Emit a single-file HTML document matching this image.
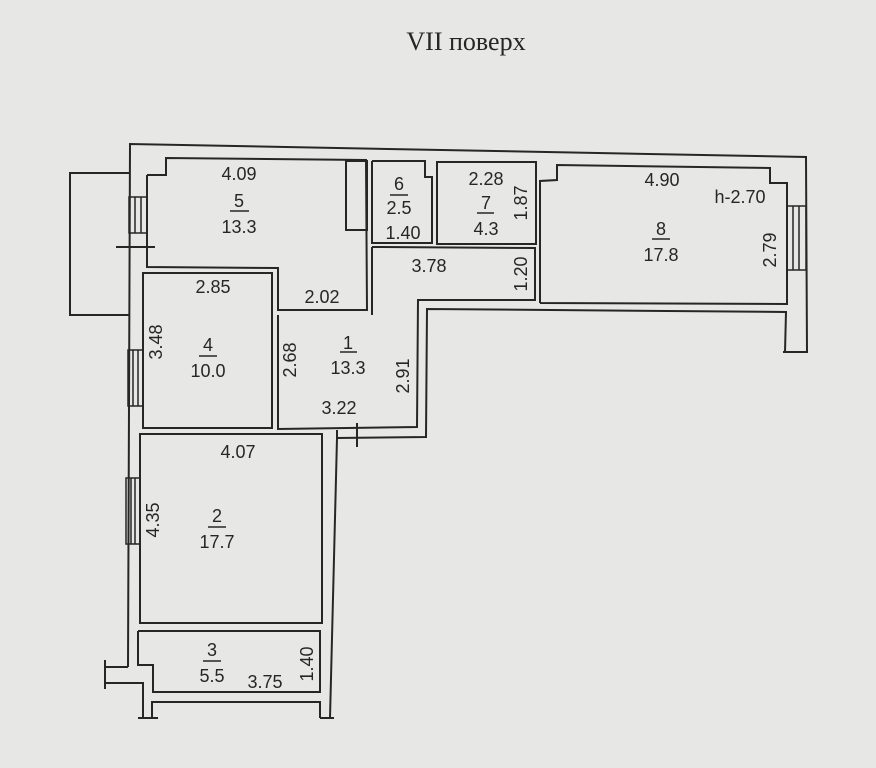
<!DOCTYPE html>
<html><head><meta charset="utf-8"><style>
body{margin:0;background:#e7e7e5;}
svg{display:block}
text{font-family:"Liberation Sans",sans-serif;font-size:18px;fill:#262626}
.t{font-family:"Liberation Serif",serif;font-size:26px}
</style></head><body>
<svg width="876" height="768" viewBox="0 0 876 768">
<rect width="876" height="768" fill="#e7e7e5"/>
<text class="t" x="466" y="50" text-anchor="middle">VII поверх</text>
<g fill="none" stroke="#262626" stroke-width="2">
<polyline points="128,667 130,144 806,157 807,352"/>
<polyline points="783,352 808,352"/>
<polyline points="785,352 786,312 427,309 426,437 337,438 330,718"/>
<polyline points="320,718 334,718"/>
<polyline points="129,173 70,173 70,315 129,315"/>
<line x1="116" y1="247" x2="155" y2="247"/>
<polyline points="128,667 105,667"/><line x1="105" y1="660" x2="105" y2="689"/>
<polyline points="105,683 143,683 143,718"/><line x1="138" y1="718" x2="158" y2="718"/>
<polyline points="152,718 152,702 320,702 320,718"/>
<polyline points="147,175 166,175 166,158 366,160 367,310 278,310 278,268 147,267 147,175"/>
<rect x="346" y="161" width="21" height="69"/>
<polyline points="372,161 425,161 425,177 432,177 432,243 372,243 372,161"/>
<rect x="437" y="162" width="99" height="82"/>
<polyline points="540,303 540,181 557,180 557,165 770,168 770,183 787,183 787,304 540,303"/>
<polyline points="372,247 535,248 535,300 418,300 417,427 278,429 278,315"/>
<line x1="372" y1="247" x2="372" y2="315"/>
<rect x="143" y="273" width="129" height="155"/>
<rect x="140" y="434" width="182" height="189"/>
<polyline points="138,631 320,631 320,692 153,692 153,665 138,665 138,631"/>
<line x1="147" y1="175" x2="147" y2="267"/>
<line x1="337" y1="438" x2="337" y2="430"/>
<line x1="357" y1="423" x2="357" y2="447"/>
</g>
<g stroke="#262626" stroke-width="1.5">
<rect x="129" y="197" width="18" height="36" fill="none"/><line x1="135" y1="197" x2="135" y2="233"/><line x1="141" y1="197" x2="141" y2="233"/>
<rect x="128" y="350" width="15" height="56" fill="none"/><line x1="133" y1="350" x2="133" y2="406"/><line x1="138" y1="350" x2="138" y2="406"/>
<rect x="126" y="478" width="14" height="66" fill="none"/><line x1="131" y1="478" x2="131" y2="544"/><line x1="135" y1="478" x2="135" y2="544"/>
<rect x="787" y="206" width="19" height="64" fill="none"/><line x1="793" y1="206" x2="793" y2="270"/><line x1="799" y1="206" x2="799" y2="270"/>
</g>
<g stroke="#262626" stroke-width="1.5">
<line x1="230" y1="211" x2="249" y2="211"/>
<line x1="199" y1="356" x2="217" y2="356"/>
<line x1="340" y1="352" x2="357" y2="352"/><line x1="390" y1="195" x2="408" y2="195"/>
<line x1="477" y1="213" x2="494" y2="213"/><line x1="652" y1="239" x2="670" y2="239"/>
<line x1="208" y1="527" x2="226" y2="527"/><line x1="203" y1="661" x2="221" y2="661"/>
</g>
<g text-anchor="middle">
<text x="239" y="180">4.09</text><text x="239" y="207">5</text><text x="239" y="233">13.3</text>
<text x="399" y="190">6</text><text x="399" y="214">2.5</text><text x="403" y="239">1.40</text>
<text x="486" y="185">2.28</text><text x="486" y="209">7</text><text x="486" y="235">4.3</text>
<text x="662" y="186">4.90</text><text x="740" y="203">h-2.70</text><text x="661" y="235">8</text><text x="661" y="261">17.8</text>
<text x="429" y="272">3.78</text>
<text x="213" y="293">2.85</text><text x="322" y="303">2.02</text>
<text x="208" y="351">4</text><text x="208" y="377">10.0</text>
<text x="348" y="349">1</text><text x="348" y="374">13.3</text>
<text x="339" y="414">3.22</text>
<text x="238" y="458">4.07</text><text x="217" y="522">2</text><text x="217" y="548">17.7</text>
<text x="212" y="656">3</text><text x="212" y="682">5.5</text><text x="265" y="688">3.75</text>
</g>
<g text-anchor="middle">
<text transform="translate(527,203) rotate(-90)">1.87</text>
<text transform="translate(527,274) rotate(-90)">1.20</text>
<text transform="translate(776,250) rotate(-90)">2.79</text>
<text transform="translate(162,342) rotate(-90)">3.48</text>
<text transform="translate(296,360) rotate(-90)">2.68</text>
<text transform="translate(409,376) rotate(-90)">2.91</text>
<text transform="translate(159,520) rotate(-90)">4.35</text>
<text transform="translate(313,664) rotate(-90)">1.40</text>
</g>
</svg>
</body></html>
